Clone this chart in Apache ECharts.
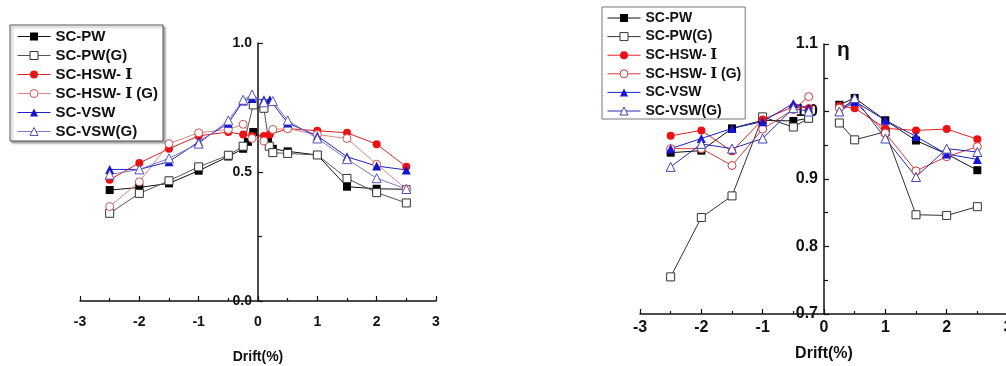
<!DOCTYPE html>
<html>
<head>
<meta charset="utf-8">
<script src="https://cdn.jsdelivr.net/npm/echarts@6/dist/echarts.min.js"></script>
<style>
html,body{margin:0;padding:0;background:#fff;}
#chart{width:1006px;height:366px;}
</style>
</head>
<body>
<div id="chart"></div>
<script>
// Specimen names (shared by both panels)
const names = ['SC-PW', 'SC-PW(G)', 'SC-HSW- Ⅰ', 'SC-HSW- Ⅰ (G)', 'SC-VSW', 'SC-VSW(G)'];

// Left panel: drift (%) and ratio values per specimen
const leftPW_x   = [-2.5, -2, -1.5, -1, -0.5, -0.25, -0.17, -0.08, 0.17, 0.25, 0.5, 1, 1.5, 2, 2.5];
const leftPW_y   = [0.43, 0.44, 0.456, 0.505, 0.56, 0.59, 0.617, 0.655, 0.62, 0.59, 0.58, 0.566, 0.443, 0.435, 0.433];
const leftPWG_x  = [-2.5, -2, -1.5, -1, -0.5, -0.25, -0.08, 0.1, 0.19, 0.25, 0.5, 1, 1.5, 2, 2.5];
const leftPWG_y  = [0.34, 0.417, 0.466, 0.52, 0.565, 0.6, 0.76, 0.747, 0.6, 0.575, 0.572, 0.566, 0.475, 0.42, 0.38];
const leftHSW_x  = [-2.5, -2, -1.5, -1, -0.5, -0.25, -0.1, 0.1, 0.2, 0.5, 1, 1.5, 2, 2.5];
const leftHSW_y  = [0.47, 0.535, 0.59, 0.64, 0.655, 0.645, 0.64, 0.64, 0.645, 0.668, 0.66, 0.652, 0.608, 0.52];
const leftHSWG_x = [-2.5, -2, -1.5, -1, -0.5, -0.25, -0.1, 0.1, 0.25, 0.5, 1, 1.5, 2, 2.5];
const leftHSWG_y = [0.366, 0.462, 0.61, 0.652, 0.665, 0.685, 0.63, 0.62, 0.665, 0.668, 0.645, 0.63, 0.53, 0.434];
const leftVSW_x  = [-2.5, -2, -1.5, -1, -0.5, -0.25, -0.1, 0.1, 0.2, 0.5, 1, 1.5, 2, 2.5];
const leftVSW_y  = [0.51, 0.51, 0.54, 0.617, 0.689, 0.775, 0.785, 0.78, 0.78, 0.69, 0.64, 0.559, 0.523, 0.508];
const leftVSWG_x = [-2.5, -2, -1.5, -1, -0.5, -0.25, -0.1, 0.1, 0.25, 0.5, 1, 1.5, 2, 2.5];
const leftVSWG_y = [0.49, 0.51, 0.553, 0.61, 0.70, 0.78, 0.80, 0.77, 0.775, 0.70, 0.63, 0.55, 0.476, 0.434];

// Right panel: η at negative and positive drifts
const etaXNeg = [-2.5, -2, -1.5, -1, -0.5, -0.25];
const etaXPos = [0.25, 0.5, 1, 1.5, 2, 2.5];
const etaPW_neg   = [0.939, 0.942, 0.975, 0.987, 0.986, 0.990];
const etaPW_pos   = [1.010, 1.020, 0.987, 0.957, 0.937, 0.913];
const etaPWG_neg  = [0.755, 0.843, 0.875, 0.992, 0.977, 0.990];
const etaPWG_pos  = [0.983, 0.958, 0.970, 0.847, 0.846, 0.859];
const etaHSW_neg  = [0.964, 0.972, 0.941, 0.988, 1.007, 1.005];
const etaHSW_pos  = [1.008, 1.005, 0.975, 0.972, 0.974, 0.959];
const etaHSWG_neg = [0.945, 0.945, 0.920, 0.974, 1.003, 1.022];
const etaHSWG_pos = [1.005, 1.015, 0.968, 0.912, 0.933, 0.948];
const etaVSW_neg  = [0.945, 0.960, 0.975, 0.985, 1.012, 1.005];
const etaVSW_pos  = [1.000, 1.015, 0.987, 0.963, 0.937, 0.929];
const etaVSWG_neg = [0.918, 0.952, 0.945, 0.960, 1.005, 1.000];
const etaVSWG_pos = [1.000, 1.020, 0.960, 0.903, 0.945, 0.940];

const FONT = '"Liberation Sans", Arial, "DejaVu Serif", sans-serif';

function zip(xs, ys) { return xs.map((x, i) => [x, ys[i]]); }
// negative and positive branches drawn as separate runs
function split(neg, pos) {
  return zip(etaXNeg, neg).concat([[0, '-']], zip(etaXPos, pos));
}

// marker / line styles: [symbol, hollow, marker colour, line colour]
const leftStyles = [
  ['rect', false, '#000000', '#111111'],
  ['rect', true, '#333333', '#555555'],
  ['circle', false, '#ee1111', '#e02020'],
  ['circle', true, '#cc5555', '#d88888'],
  ['triangle', false, '#1414cc', '#2020c8'],
  ['triangle', true, '#5555bb', '#7a7ac8']
];
const rightStyles = [
  ['rect', false, '#000000', '#111111'],
  ['rect', true, '#333333', '#333333'],
  ['circle', false, '#ee1111', '#e02020'],
  ['circle', true, '#cc3b3b', '#d83a3a'],
  ['triangle', false, '#1414dd', '#2020cc'],
  ['triangle', true, '#4444bb', '#2a2ab0']
];

function makeSeries(name, data, idx, st) {
  const [symbol, hollow, mc, lc] = st;
  return {
    name: name, type: 'line', xAxisIndex: idx, yAxisIndex: idx,
    data: data, symbol: symbol, symbolSize: symbol === 'triangle' ? 9 : 8,
    showAllSymbol: true, connectNulls: false,
    itemStyle: hollow ? { color: '#ffffff', borderColor: mc, borderWidth: 1 } : { color: mc, borderWidth: 0 },
    lineStyle: { color: lc, width: 1 },
    emphasis: { disabled: true },
    z: 3
  };
}

const leftData = [
  zip(leftPW_x, leftPW_y), zip(leftPWG_x, leftPWG_y), zip(leftHSW_x, leftHSW_y),
  zip(leftHSWG_x, leftHSWG_y), zip(leftVSW_x, leftVSW_y), zip(leftVSWG_x, leftVSWG_y)
];
const rightData = [
  split(etaPW_neg, etaPW_pos), split(etaPWG_neg, etaPWG_pos), split(etaHSW_neg, etaHSW_pos),
  split(etaHSWG_neg, etaHSWG_pos), split(etaVSW_neg, etaVSW_pos), split(etaVSWG_neg, etaVSWG_pos)
];

const series = [];
names.forEach((n, i) => series.push(makeSeries(n, leftData[i], 0, leftStyles[i])));
names.forEach((n, i) => series.push(makeSeries(n, rightData[i], 1, rightStyles[i])));

function legendData(styles) {
  return names.map((n, i) => {
    const [symbol, hollow, mc, lc] = styles[i];
    return {
      name: n,
      itemStyle: hollow ? { color: '#ffffff', borderColor: mc, borderWidth: 1 } : { color: mc, borderWidth: 0 },
      lineStyle: { color: lc, width: 1 }
    };
  });
}

function xAxis(idx, labelSize, margin, nameGap, nameSize) {
  return {
    gridIndex: idx, type: 'value', min: -3, max: 3, interval: 1,
    axisLine: { onZero: false, lineStyle: { color: '#111', width: 1.5 } },
    axisTick: { inside: true, length: 5, lineStyle: { color: '#111', width: 1.2 } },
    minorTick: { show: true, splitNumber: 2, length: 3, lineStyle: { color: '#111', width: 1.2 } },
    splitLine: { show: false },
    axisLabel: { color: '#111', fontFamily: FONT, fontWeight: 'bold', fontSize: labelSize, margin: margin },
    name: 'Drift(%)', nameLocation: 'middle', nameGap: nameGap,
    nameTextStyle: { color: '#111', fontFamily: FONT, fontWeight: 'bold', fontSize: nameSize }
  };
}

// vertical axis placed at drift = 0 by offsetting it into the plot
function yAxis(idx, min, max, interval, labelSize, shift) {
  return {
    gridIndex: idx, type: 'value', min: min, max: max, interval: interval,
    position: 'left', offset: -shift,
    axisLine: { show: true, onZero: false, lineStyle: { color: '#111', width: 1.5 } },
    axisTick: { show: true, inside: true, length: 5, lineStyle: { color: '#111', width: 1.2 } },
    minorTick: { show: true, splitNumber: 2, length: 4, lineStyle: { color: '#111', width: 1.2 } },
    splitLine: { show: false },
    axisLabel: {
      show: true, showMinLabel: true, showMaxLabel: true, hideOverlap: false,
      color: '#111', fontFamily: FONT, fontWeight: 'bold', fontSize: labelSize, margin: 6,
      formatter: v => v.toFixed(1)
    }
  };
}

const chart = echarts.init(document.getElementById('chart'), null, { renderer: 'canvas' });
chart.setOption({
  animation: false,
  backgroundColor: '#ffffff',
  grid: [
    { left: 80, top: 43, width: 356, height: 258, containLabel: false, outerBoundsMode: 'none' },
    { left: 640, top: 44, width: 368, height: 270, containLabel: false, outerBoundsMode: 'none' }
  ],
  xAxis: [xAxis(0, 14, 14, 49, 14), xAxis(1, 16, 6, 32, 16)],
  yAxis: [yAxis(0, 0, 1, 0.5, 14, 178), yAxis(1, 0.7, 1.1, 0.1, 16, 184)],
  legend: [
    {
      orient: 'vertical', left: 10, top: 25, padding: [4, 5, 2, 7],
      itemGap: 4, itemWidth: 33, itemHeight: 10,
      backgroundColor: '#ffffff', borderColor: '#555', borderWidth: 1,
      shadowColor: 'rgba(0,0,0,0.35)', shadowBlur: 2, shadowOffsetX: 2, shadowOffsetY: 2,
      textStyle: { color: '#111', fontFamily: FONT, fontWeight: 'bold', fontSize: 15 },
      selectedMode: false,
      data: legendData(leftStyles)
    },
    {
      orient: 'vertical', left: 602, top: 7, padding: [4, 4, 1, 5],
      itemGap: 4.6, itemWidth: 33, itemHeight: 10,
      backgroundColor: '#ffffff', borderColor: '#777', borderWidth: 1,
      textStyle: { color: '#111', fontFamily: FONT, fontWeight: 'bold', fontSize: 14 },
      selectedMode: false,
      data: legendData(rightStyles)
    }
  ],
  graphic: [
    { type: 'text', left: 837, top: 40, style: { text: 'η', font: 'bold 21px "Liberation Sans", Arial, sans-serif', fill: '#111' } }
  ],
  series: series
});
</script>
</body>
</html>
